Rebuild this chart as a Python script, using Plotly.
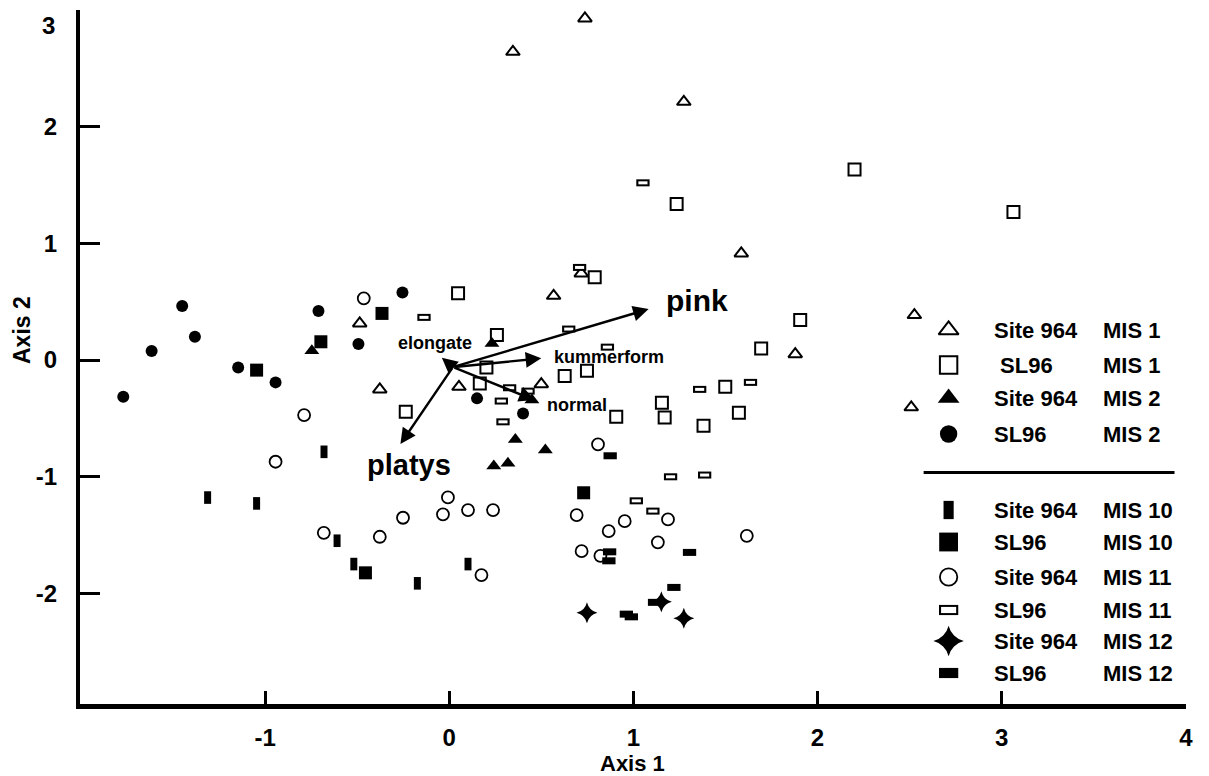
import plotly.graph_objects as go

FONT = "Liberation Sans, Arial, sans-serif"

# ---------------- ordination scores (Axis 1, Axis 2) ----------------
site964_mis1_x = [0.737, 0.346, 1.274, 1.586, 0.717, 1.879, 2.526, 2.509, 0.567, -0.486, -0.377, 0.053, 0.500]
site964_mis1_y = [2.928, 2.642, 2.213, 0.914, 0.743, 0.051, 0.386, -0.405, 0.551, 0.314, -0.251, -0.229, -0.206]

sl96_mis1_x = [2.201, 1.235, 3.064, 0.790, 0.048, 0.259, 0.202, 0.166, -0.236, 0.627, 0.748, 0.907, 1.155,
               1.170, 1.906, 1.694, 1.499, 1.573, 1.381]
sl96_mis1_y = [1.634, 1.337, 1.268, 0.709, 0.572, 0.214, -0.063, -0.200, -0.443, -0.137, -0.092, -0.486, -0.366,
               -0.491, 0.343, 0.100, -0.229, -0.452, -0.563]

site964_mis2_x = [-0.746, 0.232, 0.449, 0.359, 0.522, 0.242, 0.319]
site964_mis2_y = [0.081, 0.143, -0.343, -0.680, -0.771, -0.908, -0.885]

sl96_mis2_x = [-1.770, -1.616, -1.450, -1.381, -1.146, -0.943, -0.710, -0.493, -0.254, 0.151, 0.401]
sl96_mis2_y = [-0.314, 0.077, 0.463, 0.200, -0.063, -0.191, 0.420, 0.137, 0.580, -0.328, -0.457]

site964_mis10_x = [-0.680, -1.312, -1.046, -0.609, -0.518, -0.173, 0.102]
site964_mis10_y = [-0.786, -1.178, -1.228, -1.548, -1.748, -1.913, -1.748]

sl96_mis10_x = [-0.365, -0.697, -1.046, -0.455, 0.730]
sl96_mis10_y = [0.400, 0.157, -0.086, -1.823, -1.137]

site964_mis11_x = [-0.464, -0.788, -0.943, -0.681, -0.377, -0.251, -0.007, -0.034, 0.102, 0.238, 0.175, 0.692,
                   0.719, 0.808, 0.866, 0.953, 1.188, 1.133, 0.821, 1.616]
site964_mis11_y = [0.529, -0.471, -0.871, -1.480, -1.514, -1.351, -1.177, -1.322, -1.285, -1.285, -1.842, -1.328,
                   -1.637, -0.722, -1.465, -1.380, -1.365, -1.562, -1.677, -1.506]

sl96_mis11_x = [1.052, 0.708, -0.137, 0.649, 0.859, 0.328, 0.428, 0.283, 0.292, 1.202, 1.360, 1.636, 1.387,
                1.016, 1.106]
sl96_mis11_y = [1.519, 0.794, 0.366, 0.266, 0.111, -0.237, -0.266, -0.351, -0.529, -1.000, -0.251, -0.191, -0.985,
                -1.206, -1.294]

site964_mis12_x = [0.748, 1.152, 1.274]
site964_mis12_y = [-2.165, -2.071, -2.213]

sl96_mis12_x = [0.874, 0.871, 0.867, 1.305, 1.220, 1.115, 0.962, 0.989]
sl96_mis12_y = [-0.820, -1.643, -1.720, -1.648, -1.948, -2.076, -2.177, -2.200]

# ---------------- morphotype vectors ----------------
arrow_names = ["pink", "kummerform", "normal", "elongate", "platys"]
arrow_x = [1.083, 0.500, 0.464, -0.040, -0.265]
arrow_y = [0.437, 0.015, -0.343, 0.020, -0.720]
arrow_origin_x = 0.02
arrow_origin_y = -0.06

# ---------------- axis ticks ----------------
x_ticks = [-1, 0, 1, 2, 3, 4]
x_tick_text = ["-1", "0", "1", "2", "3", "4"]
y_ticks = [-2, -1, 0, 1, 2]
y_tick_text = ["-2", "-1", "0", "1", "2"]
y_top_label = "3"

# ---------------- legend entries ----------------
legend_site = ["Site 964", "\u00a0SL96", "Site 964", "SL96",
               "Site 964", "SL96", "Site 964", "SL96", "Site 964", "SL96"]
legend_mis = ["MIS 1", "MIS 1", "MIS 2", "MIS 2",
              "MIS 10", "MIS 10", "MIS 11", "MIS 11", "MIS 12", "MIS 12"]
legend_kind = ["tri_open", "sq_open", "tri_fill", "dot_fill",
               "vbar", "sq_fill", "dot_open", "hbar_open", "star", "hbar_fill"]

series = [
    (site964_mis1_x, site964_mis1_y, "tri_open"),
    (sl96_mis1_x, sl96_mis1_y, "sq_open"),
    (site964_mis11_x, site964_mis11_y, "dot_open"),
    (sl96_mis11_x, sl96_mis11_y, "hbar_open"),
    (site964_mis2_x, site964_mis2_y, "tri_fill"),
    (sl96_mis2_x, sl96_mis2_y, "dot_fill"),
    (site964_mis10_x, site964_mis10_y, "vbar"),
    (sl96_mis10_x, sl96_mis10_y, "sq_fill"),
    (site964_mis12_x, site964_mis12_y, "star"),
    (sl96_mis12_x, sl96_mis12_y, "hbar_fill"),
]


def marker_layers(kind, k=1.0):
    """Marker dicts for one symbol kind; k scales the symbol size."""
    blk = "black"
    if kind == "tri_open":
        return [dict(symbol="triangle-up-open", size=12 * k, color=blk, line=dict(width=2, color=blk))]
    if kind == "sq_open":
        return [dict(symbol="square-open", size=12 * k, color=blk, line=dict(width=2, color=blk))]
    if kind == "tri_fill":
        return [dict(symbol="triangle-up", size=13 * k, color=blk, line=dict(width=0))]
    if kind == "dot_fill":
        return [dict(symbol="circle", size=12 * k, color=blk, line=dict(width=0))]
    if kind == "vbar":
        return [dict(symbol="line-ns-open", size=9 * k, color=blk, line=dict(width=7 * k, color=blk))]
    if kind == "sq_fill":
        return [dict(symbol="square", size=13 * k, color=blk, line=dict(width=0))]
    if kind == "dot_open":
        return [dict(symbol="circle-open", size=12 * k, color=blk, line=dict(width=1.8, color=blk))]
    if kind == "hbar_open":
        return [dict(symbol="line-ew-open", size=9.5 * k, color=blk, line=dict(width=7 * k, color=blk)),
                dict(symbol="line-ew-open", size=9.5 * k - 3, color="white",
                     line=dict(width=7 * k - 4, color="white"))]
    if kind == "star":
        return [dict(symbol="star-diamond", size=15 * k, color=blk, line=dict(width=0))]
    if kind == "hbar_fill":
        return [dict(symbol="line-ew-open", size=9.5 * k, color=blk, line=dict(width=7 * k, color=blk))]
    raise ValueError(kind)


fig = go.Figure()

for xs, ys, kind in series:
    for m in marker_layers(kind):
        fig.add_trace(go.Scatter(x=xs, y=ys, mode="markers", marker=m,
                                 hoverinfo="skip", showlegend=False))

# ---------------- legend block (pixel canvas on x2/y2) ----------------
W, H = 1209, 776
L, R, T, B = 80, 22.5, 10, 72
leg_sym_x = 949
leg_col1_x = 992
leg_col2_x = 1101
leg_row_y = [330, 365, 398, 434, 510, 542, 577, 610, 641, 673]

for i, kind in enumerate(legend_kind):
    for m in marker_layers(kind, 1.45):
        fig.add_trace(go.Scatter(x=[leg_sym_x], y=[leg_row_y[i]], mode="markers", marker=m,
                                 xaxis="x2", yaxis="y2", hoverinfo="skip", showlegend=False))

annotations = []
for i in range(len(legend_site)):
    for txt, xx in ((legend_site[i], leg_col1_x), (legend_mis[i], leg_col2_x)):
        annotations.append(dict(x=xx, y=leg_row_y[i], xref="x2", yref="y2", text=txt, showarrow=False,
                                xanchor="left", yanchor="middle",
                                font=dict(family=FONT, size=22, color="black", weight="bold")))

shapes = [dict(type="line", xref="x2", yref="y2", x0=924, x1=1175, y0=472.5, y1=472.5,
               line=dict(color="black", width=3))]

# ---------------- vectors ----------------
for nm, tx, ty in zip(arrow_names, arrow_x, arrow_y):
    annotations.append(dict(x=tx, y=ty, ax=arrow_origin_x, ay=arrow_origin_y, xref="x", yref="y",
                            axref="x", ayref="y", text="", showarrow=True, arrowhead=2,
                            arrowsize=1.3, arrowwidth=2.4, arrowcolor="black", standoff=0))

vec_label_pos = {
    "pink": (1.344, 0.514, 30, "center"),
    "kummerform": (0.56, 0.026, 18, "left"),
    "normal": (0.518, -0.386, 18, "left"),
    "elongate": (-0.079, 0.146, 18, "center"),
    "platys": (-0.22, -0.90, 29, "center"),
}
for nm in arrow_names:
    lx, ly, fs, anc = vec_label_pos[nm]
    annotations.append(dict(x=lx, y=ly, xref="x", yref="y", text=nm, showarrow=False,
                            xanchor=anc, yanchor="middle",
                            font=dict(family=FONT, size=fs, color="black", weight="bold")))

tick_font = dict(family=FONT, size=24, color="black", weight="bold")

# ---------------- axis titles and top y label ----------------
plot_w = W - L - R
plot_h = H - T - B
annotations.append(dict(x=(633 - L) / plot_w, y=(H - B - 763) / plot_h, xref="paper", yref="paper",
                        text="Axis 1", showarrow=False, xanchor="center", yanchor="middle",
                        font=dict(family=FONT, size=22, color="black", weight="bold")))
annotations.append(dict(x=(22 - L) / plot_w, y=(H - B - 330) / plot_h, xref="paper", yref="paper",
                        text="Axis 2", showarrow=False, xanchor="center", yanchor="middle", textangle=-90,
                        font=dict(family=FONT, size=23, color="black", weight="bold")))
# the "3" label sits just below the top end of the y axis
annotations.append(dict(x=(57 - L) / plot_w, y=(H - B - 25) / plot_h, xref="paper", yref="paper",
                        text=y_top_label, showarrow=False, xanchor="right", yanchor="middle",
                        font=tick_font))

fig.update_layout(
    width=W, height=H,
    margin=dict(l=L, r=R, t=T, b=B),
    plot_bgcolor="white", paper_bgcolor="white",
    showlegend=False,
    xaxis=dict(range=[-2.005, 4.001], tickvals=x_ticks, ticktext=x_tick_text, ticks="inside", ticklen=13,
               tickwidth=3, tickcolor="black", showline=True, linewidth=5, linecolor="black", showgrid=False,
               zeroline=False, tickfont=tick_font, ticklabelstandoff=8),
    yaxis=dict(range=[-2.947, 3.0], tickvals=y_ticks, ticktext=y_tick_text, ticks="inside", ticklen=20,
               tickwidth=3, tickcolor="black", showline=True, linewidth=4, linecolor="black", showgrid=False,
               zeroline=False, tickfont=tick_font, ticklabelstandoff=14),
    xaxis2=dict(overlaying="x", range=[L, W - R], visible=False),
    yaxis2=dict(overlaying="y", range=[H - B, T], visible=False),
    annotations=annotations,
    shapes=shapes,
)

fig.write_html("out.html")
